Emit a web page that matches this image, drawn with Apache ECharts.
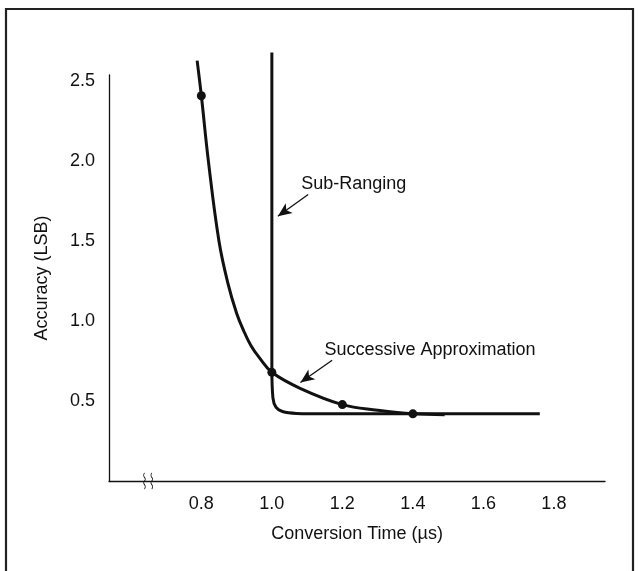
<!DOCTYPE html>
<html>
<head>
<meta charset="utf-8">
<script src="https://cdn.jsdelivr.net/npm/echarts@6/dist/echarts.min.js"></script>
<style>
  html, body { margin: 0; padding: 0; background: #fff; }
  #chart { width: 639px; height: 571px; }
</style>
</head>
<body>
<div id="chart"></div>
<script>
// Conversion time (µs) vs. accuracy (LSB) for two ADC architectures
const saTime     = [0.788, 0.800, 0.820, 0.850, 0.875, 0.900, 0.920, 0.940, 0.965, 1.000, 1.080, 1.200, 1.300, 1.400, 1.490];
const saAccuracy = [2.630, 2.410, 2.000, 1.500, 1.240, 1.050, 0.940, 0.850, 0.770, 0.680, 0.580, 0.478, 0.443, 0.420, 0.415];

const srTime     = [1.000, 1.000, 1.000, 1.003, 1.012, 1.030, 1.070, 1.150, 1.760];
const srAccuracy = [2.680, 1.500, 0.700, 0.520, 0.460, 0.435, 0.423, 0.420, 0.420];

// measured points marked on the successive-approximation curve
const dotTime     = [0.8, 1.0, 1.2, 1.4];
const dotAccuracy = [2.41, 0.68, 0.478, 0.42];

const xTicks = [0.8, 1.0, 1.2, 1.4, 1.6, 1.8];
const yTicks = [0.5, 1.0, 1.5, 2.0, 2.5];

const FONT = 'Liberation Sans, Arial, Helvetica, sans-serif';
const INK = '#111';

const pairs = (xs, ys) => xs.map((x, i) => [x, ys[i]]);

const chart = echarts.init(document.getElementById('chart'), null, { renderer: 'canvas' });

chart.setOption({
  animation: false,
  backgroundColor: '#fff',
  grid: { left: 109, top: 75, width: 496, height: 406, containLabel: false },
  xAxis: {
    type: 'value',
    min: 0.538,
    max: 1.945,
    name: 'Conversion Time (µs)',
    nameLocation: 'middle',
    nameGap: 44,
    nameTextStyle: { fontFamily: FONT, fontSize: 18, color: INK },
    axisLine: { onZero: false, lineStyle: { color: INK, width: 1.3 } },
    axisTick: { show: false },
    splitLine: { show: false },
    axisLabel: {
      customValues: xTicks,
      margin: 14,
      fontFamily: FONT, fontSize: 18, color: INK,
      formatter: v => v.toFixed(1)
    }
  },
  yAxis: {
    type: 'value',
    min: 0,
    max: 2.54,
    name: 'Accuracy (LSB)',
    nameLocation: 'middle',
    nameRotate: 90,
    nameGap: 58,
    nameTextStyle: { fontFamily: FONT, fontSize: 18, color: INK },
    axisLine: { onZero: false, lineStyle: { color: INK, width: 1.3 } },
    axisTick: { show: false },
    splitLine: { show: false },
    axisLabel: {
      customValues: yTicks,
      margin: 14,
      fontFamily: FONT, fontSize: 18, color: INK,
      formatter: v => v.toFixed(1)
    }
  },
  series: [
    {
      name: 'Sub-Ranging',
      type: 'line',
      data: pairs(srTime, srAccuracy),
      smooth: 0.4,
      clip: false,
      showSymbol: false,
      lineStyle: { color: INK, width: 3 },
      markPoint: {
        symbol: 'circle', symbolSize: 0,
        label: {
          show: true, position: 'right', distance: 0,
          formatter: 'Sub-Ranging',
          fontFamily: FONT, fontSize: 18, color: INK
        },
        data: [{ coord: [1.083, 1.86] }]
      },
      markLine: {
        silent: true,
        symbol: ['none', 'arrow'],
        symbolSize: [9, 14],
        label: { show: false },
        lineStyle: { color: INK, width: 1.3, type: 'solid' },
        data: [[{ coord: [1.103, 1.793] }, { coord: [1.017, 1.656] }]]
      }
    },
    {
      name: 'Successive Approximation',
      type: 'line',
      data: pairs(saTime, saAccuracy),
      smooth: 0.4,
      clip: false,
      showSymbol: false,
      lineStyle: { color: INK, width: 3 },
      markPoint: {
        symbol: 'circle', symbolSize: 0,
        label: {
          show: true, position: 'right', distance: 0,
          formatter: 'Successive Approximation',
          fontFamily: FONT, fontSize: 18, color: INK
        },
        data: [{ coord: [1.149, 0.822] }]
      },
      markLine: {
        silent: true,
        symbol: ['none', 'arrow'],
        symbolSize: [9, 14],
        label: { show: false },
        lineStyle: { color: INK, width: 1.3, type: 'solid' },
        data: [[{ coord: [1.171, 0.756] }, { coord: [1.081, 0.616] }]]
      }
    },
    {
      name: 'points',
      type: 'scatter',
      data: pairs(dotTime, dotAccuracy),
      symbol: 'circle',
      symbolSize: 9,
      itemStyle: { color: INK, opacity: 1 },
      z: 5
    },
    {
      // axis-break mark on the time axis
      name: 'break',
      type: 'scatter',
      data: [],
      markPoint: {
        symbol: 'path://M2,0 C0,4 4,5 2,8 C0,11 4,12 2,16 M7,0 C5,4 9,5 7,8 C5,11 9,12 7,16',
        symbolSize: [9, 16],
        itemStyle: { color: 'none', borderColor: INK, borderWidth: 1 },
        label: { show: false },
        data: [{ coord: [0.649, 0] }]
      }
    }
  ],
  graphic: [
    {
      type: 'rect',
      shape: { x: 6, y: 9, width: 627, height: 580 },
      style: { fill: 'none', stroke: '#222', lineWidth: 2.2 },
      silent: true
    }
  ]
});
</script>
</body>
</html>
